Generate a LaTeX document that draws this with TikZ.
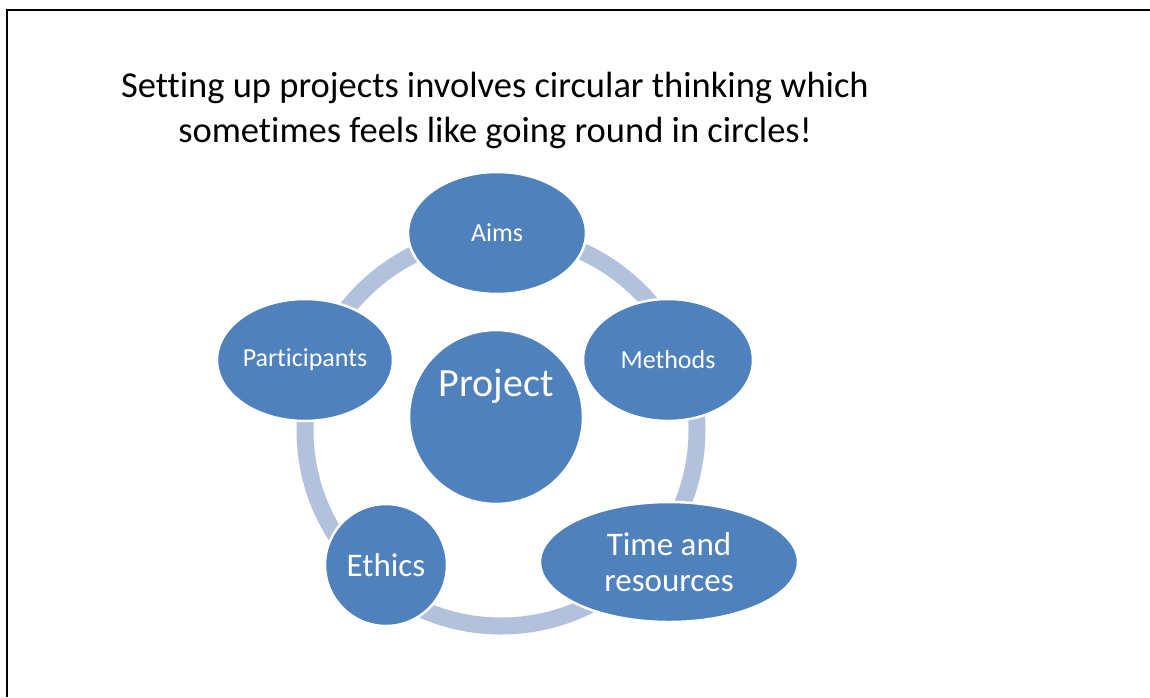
\documentclass[tikz,border=0pt]{standalone}
\usepackage{fontspec}
\setmainfont{Carlito}[Ligatures=NoCommon]
\usetikzlibrary{shapes.geometric}
\definecolor{partblue}{RGB}{79,129,189}
\definecolor{ringblue}{RGB}{178,193,220}
\begin{document}
\begin{tikzpicture}[x=1pt, y=-1pt,
    part/.style={ellipse, fill=partblue, draw=white, line width=2.5pt, inner sep=0pt, text=white},
    small/.style={part, font=\fontsize{26}{30}\selectfont},
    big/.style={part, font=\fontsize{33}{36}\selectfont, align=center}]
    \useasboundingbox (0,0) rectangle (1150,697);
    \draw[line width=2.2pt] (7,697) -- (7,10) -- (1150,10);
    \node[font=\fontsize{36.5}{45}\selectfont, align=center] (title) at (495,110)
        {Setting up projects involves circular thinking which\\sometimes feels like going round in circles!};
    % the ring behind the parts
    \coordinate (hub) at (501,430);
    \draw[ringblue, line width=17pt] (hub) circle (196);
    \node[part, circle, minimum size=174pt, font=\fontsize{40}{44}\selectfont] (project) at (496,417)
        {\raisebox{21pt}[0pt][0pt]{Project}};
    \node[small, minimum width=178pt, minimum height=122pt] (aims) at (497,233) {Aims};
    \node[small, minimum width=170pt, minimum height=122pt] (methods) at (668,360) {Methods};
    \node[small, minimum width=172pt, minimum height=122pt] (participants) at (305,360) {Participants};
    \node[big, minimum width=258pt, minimum height=120pt] (time) at (669,562) {Time and\\resources};
    \node[big, circle, minimum size=122pt] (ethics) at (386,565) {Ethics};
\end{tikzpicture}
\end{document}
